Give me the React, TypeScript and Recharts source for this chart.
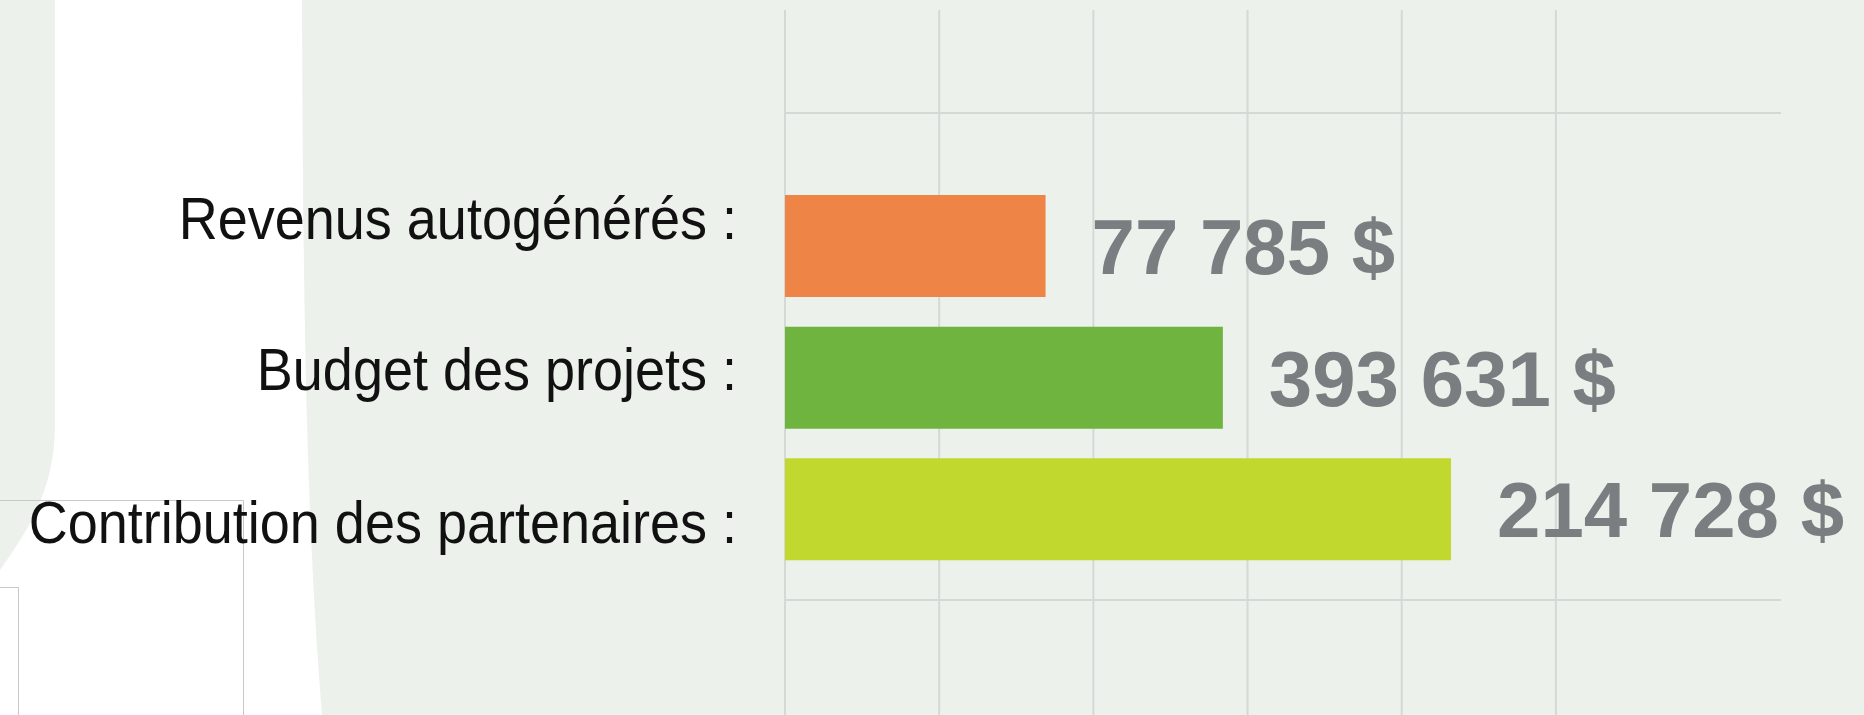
import { BarChart, Bar, XAxis, YAxis, CartesianGrid, Cell, LabelList } from "recharts";

// bar lengths are read in grid-column units (the infographic does not scale them to the amounts)
const categories = ["Revenus autogénérés :", "Budget des projets :", "Contribution des partenaires :"];
const barLengths = [1.69, 2.84, 4.32];
const amounts = ["77 785 $", "393 631 $", "214 728 $"];
const gridTicks = [0, 1, 2, 3, 4, 5];
const axisMax = 6.46;

const barColors = ["#EE8547", "#6FB43F", "#C1D82E"];
const gridColor = "#D5D9D6";
const labelShift = [-7, 12, 34];

const data = categories.map((name, i) => ({ name, value: barLengths[i], amount: amounts[i] }));

function CategoryTick({ x, y, payload, index }: any) {
  // no narrow font installed, so squeeze the sans a little
  return (
    <text
      transform={`translate(${x},${y + labelShift[index]}) scale(0.9,1)`}
      textAnchor="end"
      fill="#111"
      fontSize={60}
      fontFamily="'Liberation Sans', Arial, sans-serif"
    >
      {payload.value}
    </text>
  );
}

function NoTick() {
  return null;
}

function AmountLabel({ x, y, width, height, value }: any) {
  return (
    <text
      x={x + width + 46}
      y={y + height / 2 + 28}
      fill="#7A7E80"
      fontSize={78}
      fontWeight="bold"
      fontFamily="'Liberation Sans', sans-serif"
    >
      {value}
    </text>
  );
}

function Backdrop() {
  return (
    <svg width={1864} height={715} style={{ position: "absolute", left: 0, top: 0 }}>
      <rect width={1864} height={715} fill="#EDF1EC" />
      <path d="M55,0 L302,0 C303,300 306,520 322,715 L0,715 L0,570 C32,525 55,485 55,425 Z" fill="#FFFFFF" />
      <path d="M0,500.5 H243.5 V715 M0,587.5 H18.5 V715" fill="none" stroke="#C8C8C8" strokeWidth={1} />
    </svg>
  );
}

export default function App() {
  const axisLine = { stroke: gridColor, strokeWidth: 2 };
  return (
    <div style={{ position: "absolute", left: 0, top: 0, width: 1864, height: 715, overflow: "hidden" }}>
      <Backdrop />
      <div style={{ position: "absolute", left: 0, top: 0 }}>
        <BarChart
          width={1864}
          height={715}
          data={data}
          layout="vertical"
          margin={{ top: 10, right: 83, bottom: 0, left: 0 }}
        >
          <CartesianGrid horizontal={false} syncWithTicks stroke={gridColor} strokeWidth={2} />
          <XAxis
            type="number"
            domain={[0, axisMax]}
            ticks={gridTicks}
            interval={0}
            tick={<NoTick />}
            tickSize={115}
            height={115}
            axisLine={axisLine}
            tickLine={axisLine}
          />
          <XAxis
            xAxisId="top"
            orientation="top"
            type="number"
            domain={[0, axisMax]}
            ticks={gridTicks}
            interval={0}
            tick={<NoTick />}
            tickSize={103}
            height={103}
            axisLine={axisLine}
            tickLine={axisLine}
          />
          <YAxis
            type="category"
            dataKey="name"
            width={785}
            axisLine={false}
            tickLine={false}
            tickSize={0}
            tickMargin={48}
            padding={{ top: 67, bottom: 25 }}
            tick={<CategoryTick />}
          />
          {/* hidden twin axis so the top x axis has a series and draws its ticks */}
          <YAxis yAxisId="twin" type="category" dataKey="name" hide padding={{ top: 67, bottom: 25 }} />
          <Bar
            dataKey="value"
            xAxisId="top"
            yAxisId="twin"
            barSize={102}
            fill="none"
            fillOpacity={0}
            isAnimationActive={false}
          />
          <Bar dataKey="value" barSize={102} isAnimationActive={false}>
            {data.map((d, i) => (
              <Cell key={d.name} fill={barColors[i]} />
            ))}
            <LabelList dataKey="amount" content={<AmountLabel />} />
          </Bar>
        </BarChart>
      </div>
    </div>
  );
}
